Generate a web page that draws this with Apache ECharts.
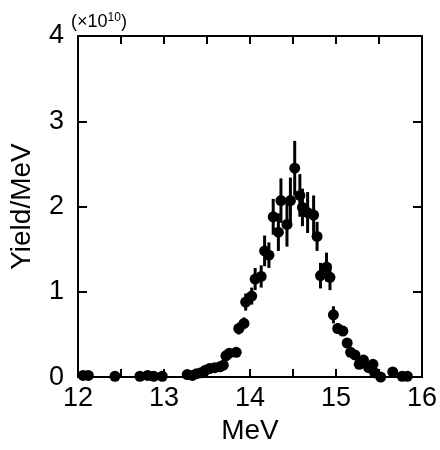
<!DOCTYPE html>
<html><head><meta charset="utf-8">
<script src="https://cdn.jsdelivr.net/npm/echarts@6/dist/echarts.min.js"></script>
<style>html,body{margin:0;padding:0;background:#fff}#c{width:440px;height:450px}</style>
</head><body><div id="c"></div>
<script>
var energy = [12.06,12.12,12.43,12.72,12.81,12.88,12.98,13.27,13.33,13.38,13.43,13.48,13.53,13.59,13.65,13.69,13.72,13.76,13.84,13.87,13.93,13.95,14.02,14.06,14.13,14.17,14.22,14.27,14.33,14.36,14.43,14.47,14.52,14.58,14.61,14.67,14.74,14.78,14.82,14.89,14.93,14.97,15.02,15.08,15.13,15.17,15.22,15.27,15.32,15.38,15.43,15.45,15.52,15.66,15.77,15.83];
var yieldVal = [0.02,0.02,0.01,0.01,0.02,0.01,0.01,0.03,0.02,0.04,0.05,0.08,0.10,0.11,0.12,0.14,0.25,0.28,0.29,0.57,0.63,0.88,0.95,1.15,1.18,1.48,1.43,1.88,1.70,2.07,1.79,2.07,2.45,2.13,1.99,1.93,1.90,1.65,1.19,1.29,1.17,0.73,0.57,0.54,0.40,0.29,0.26,0.15,0.20,0.11,0.15,0.05,0.00,0.06,0.01,0.01];
var yieldErr = [0.01,0.01,0.01,0.01,0.01,0.01,0.01,0.01,0.01,0.01,0.01,0.01,0.01,0.01,0.01,0.02,0.03,0.03,0.03,0.07,0.07,0.10,0.10,0.13,0.13,0.18,0.15,0.21,0.22,0.26,0.26,0.27,0.32,0.25,0.22,0.24,0.23,0.17,0.15,0.17,0.15,0.10,0.06,0.05,0.04,0.03,0.03,0.02,0.02,0.02,0.02,0.01,0.01,0.01,0.01,0.01];
var xTicks = [12,13,14,15,16];
var yTicks = [0,1,2,3,4];

var pts = energy.map(function(x,i){return [x, yieldVal[i], yieldErr[i]];});
var font = 'Liberation Sans, Arial, sans-serif';
var chart = echarts.init(document.getElementById('c'));
var axisLineStyle = {color:'#000', width:2};
var tickStyle = {color:'#000', width:2};
function xLabel(v){ return xTicks.indexOf(v) >= 0 ? String(v) : ''; }
chart.setOption({
  animation:false,
  grid:{left:77, right:17, top:36, bottom:67},
  xAxis:[{
    type:'value', min:xTicks[0], max:xTicks[xTicks.length-1], interval:0.5,
    name:'MeV', nameLocation:'middle', nameGap:34,
    nameTextStyle:{fontFamily:font, fontSize:28, color:'#000'},
    axisLine:{onZero:false, lineStyle:axisLineStyle},
    axisTick:{inside:true, length:8, lineStyle:tickStyle},
    axisLabel:{fontFamily:font, fontSize:27, color:'#000', margin:8, formatter:xLabel, showMinLabel:true, showMaxLabel:true},
    splitLine:{show:false}
  },{
    type:'value', position:'top', min:12, max:16, interval:0.5,
    axisLine:{onZero:false, lineStyle:axisLineStyle},
    axisTick:{inside:true, length:8, lineStyle:tickStyle},
    axisLabel:{show:false}, splitLine:{show:false}
  }],
  yAxis:[{
    type:'value', min:yTicks[0], max:yTicks[yTicks.length-1], interval:1,
    name:'Yield/MeV', nameLocation:'middle', nameGap:42,
    nameTextStyle:{fontFamily:font, fontSize:28, color:'#000'},
    axisLine:{show:true, onZero:false, lineStyle:axisLineStyle},
    axisTick:{show:true, inside:true, length:9, lineStyle:tickStyle},
    axisLabel:{fontFamily:font, fontSize:27, color:'#000', margin:14},
    splitLine:{show:false}
  },{
    type:'value', position:'right', min:0, max:4, interval:1,
    axisLine:{show:true, onZero:false, lineStyle:axisLineStyle},
    axisTick:{show:true, inside:true, length:9, lineStyle:tickStyle},
    axisLabel:{show:false}, splitLine:{show:false}
  }],
  graphic:[{
    type:'text', left:71, top:12,
    style:{text:'(×10{s|10})', rich:{s:{fontSize:12, fontFamily:font, fill:'#000', verticalAlign:'top', padding:[0,0,8,0]}}, fontFamily:font, fontSize:18, fill:'#000'}
  }],
  series:[{
    type:'custom',
    data:pts,
    renderItem:function(params, api){
      var x = api.value(0), y = api.value(1), e = api.value(2);
      var p1 = api.coord([x, y - e]), p2 = api.coord([x, y + e]);
      return {type:'line', shape:{x1:p1[0], y1:p1[1], x2:p2[0], y2:p2[1]}, style:{stroke:'#000', lineWidth:3}};
    },
    z:2
  },{
    type:'scatter', data:pts, symbol:'circle', symbolSize:11,
    itemStyle:{color:'#000', opacity:1}, z:3
  }]
});
</script></body></html>
